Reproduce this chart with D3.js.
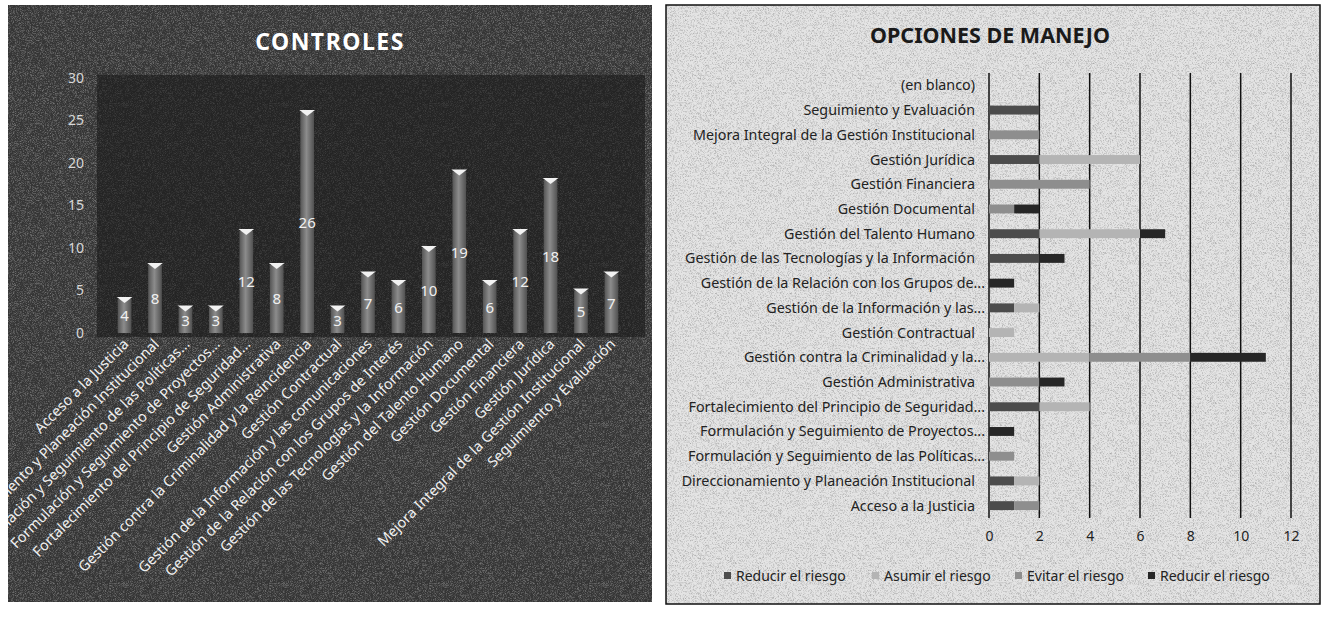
<!DOCTYPE html>
<html lang="es">
<head>
<meta charset="UTF-8">
<title>Controles y Opciones de Manejo</title>
<script src="https://d3js.org/d3.v7.min.js"></script>
<style>
  body { margin: 0; background: #fff; }
  svg { display: block; font-family: "Noto Sans", "Open Sans", sans-serif; }
</style>
</head>
<body>
<div id="chart"></div>
<script>
// --- Controles (columnas) ---
const controlLabels = [
  "Acceso a la Justicia",
  "Direccionamiento y Planeación Institucional",
  "Formulación y Seguimiento de las Políticas...",
  "Formulación y Seguimiento de Proyectos...",
  "Fortalecimiento del Principio de Seguridad...",
  "Gestión Administrativa",
  "Gestión contra la Criminalidad y la Reincidencia",
  "Gestión Contractual",
  "Gestión de la Información y las comunicaciones",
  "Gestión de la Relación con los Grupos de Interés",
  "Gestión de las Tecnologías y la Información",
  "Gestión del Talento Humano",
  "Gestión Documental",
  "Gestión Financiera",
  "Gestión Jurídica",
  "Mejora Integral de la Gestión Institucional",
  "Seguimiento y Evaluación"
];
const controlValues = [4, 8, 3, 3, 12, 8, 26, 3, 7, 6, 10, 19, 6, 12, 18, 5, 7];
const controlTicks = [0, 5, 10, 15, 20, 25, 30];

// --- Opciones de manejo (barras apiladas), de abajo hacia arriba ---
const manejoLabels = [
  "Acceso a la Justicia",
  "Direccionamiento y Planeación Institucional",
  "Formulación y Seguimiento de las Políticas...",
  "Formulación y Seguimiento de Proyectos...",
  "Fortalecimiento del Principio de Seguridad...",
  "Gestión Administrativa",
  "Gestión contra la Criminalidad y la...",
  "Gestión Contractual",
  "Gestión de la Información y las...",
  "Gestión de la Relación con los Grupos de...",
  "Gestión de las Tecnologías y la Información",
  "Gestión del Talento Humano",
  "Gestión Documental",
  "Gestión Financiera",
  "Gestión Jurídica",
  "Mejora Integral de la Gestión Institucional",
  "Seguimiento y Evaluación",
  "(en blanco)"
];
const reducirA = [1, 1, 0, 0, 2, 0, 0, 0, 1, 0, 2, 2, 0, 0, 2, 0, 2, 0];
const asumir   = [0, 1, 0, 0, 2, 0, 4, 1, 1, 0, 0, 4, 0, 0, 4, 0, 0, 0];
const evitar   = [1, 0, 1, 0, 0, 2, 4, 0, 0, 0, 0, 0, 1, 4, 0, 2, 0, 0];
const reducirB = [0, 0, 0, 1, 0, 1, 3, 0, 0, 1, 1, 1, 1, 0, 0, 0, 0, 0];
const seriesNames = ["Reducir el riesgo", "Asumir el riesgo", "Evitar el riesgo", "Reducir el riesgo"];
const manejoTicks = [0, 2, 4, 6, 8, 10, 12];

const seriesColors = ["#4c4c4c", "#b4b4b4", "#8e8e8e", "#262626"];

const W = 1328, H = 624;
const svg = d3.select("#chart").append("svg").attr("width", W).attr("height", H);
svg.append("rect").attr("width", W).attr("height", H).attr("fill", "#fff");

// grain filter to mimic the scanned look
const defs = svg.append("defs");
const grain = defs.append("filter").attr("id", "grain")
  .attr("x", 0).attr("y", 0).attr("width", "100%").attr("height", "100%");
grain.append("feTurbulence").attr("type", "fractalNoise")
  .attr("baseFrequency", 1.6).attr("numOctaves", 1).attr("seed", 3);
grain.append("feColorMatrix").attr("type", "matrix")
  .attr("values", "0 0 0 0 1  0 0 0 0 1  0 0 0 0 1  0 0 0 -2.2 1.25");
const grainDark = defs.append("filter").attr("id", "grainDark")
  .attr("x", 0).attr("y", 0).attr("width", "100%").attr("height", "100%");
grainDark.append("feTurbulence").attr("type", "fractalNoise")
  .attr("baseFrequency", 1.6).attr("numOctaves", 1).attr("seed", 7);
grainDark.append("feColorMatrix").attr("type", "matrix")
  .attr("values", "0 0 0 0 0  0 0 0 0 0  0 0 0 0 0  0 0 0 -2.2 1.2");

// ================= LEFT: CONTROLES =================
const L = { x0: 8, y0: 5, x1: 652, y1: 602 };
defs.append("clipPath").attr("id", "clipL").append("rect")
  .attr("x", L.x0).attr("y", L.y0).attr("width", L.x1 - L.x0).attr("height", L.y1 - L.y0);
const left = svg.append("g").attr("clip-path", "url(#clipL)");

left.append("rect").attr("x", L.x0).attr("y", L.y0)
  .attr("width", L.x1 - L.x0).attr("height", L.y1 - L.y0).attr("fill", "#353535");
left.append("rect").attr("x", L.x0).attr("y", L.y0)
  .attr("width", L.x1 - L.x0).attr("height", L.y1 - L.y0)
  .attr("filter", "url(#grain)").attr("opacity", 0.4);

// plot area
left.append("rect").attr("x", 97).attr("y", 75).attr("width", 548).attr("height", 262)
  .attr("fill", "#161616").attr("opacity", 0.55);

left.append("text").attr("x", 330).attr("y", 50).attr("text-anchor", "middle")
  .attr("fill", "#fff").attr("font-weight", "bold").attr("font-size", 23)
  .attr("letter-spacing", 1.5).text("CONTROLES");

const yL = d3.scaleLinear().domain([0, 30]).range([333, 78]);
const xL = d3.scaleBand().domain(controlLabels).range([101, 635]).padding(0.55);

const yAxisL = left.append("g").attr("transform", "translate(86,0)")
  .call(d3.axisLeft(yL).tickValues(controlTicks).tickSize(0).tickPadding(2));
yAxisL.select(".domain").remove();
yAxisL.selectAll("text").attr("fill", "#d8d8d8").attr("font-size", 14)
  .attr("font-family", "'Noto Sans', sans-serif");

// cylinder-like gradient
const cyl = defs.append("linearGradient").attr("id", "cyl");
cyl.append("stop").attr("offset", "0%").attr("stop-color", "#555");
cyl.append("stop").attr("offset", "45%").attr("stop-color", "#8c8c8c");
cyl.append("stop").attr("offset", "100%").attr("stop-color", "#505050");

const bars = left.append("g").selectAll("g").data(controlLabels).join("g");
bars.append("rect")
  .attr("x", d => xL(d)).attr("width", xL.bandwidth())
  .attr("y", (d, i) => yL(controlValues[i]))
  .attr("height", (d, i) => yL(0) - yL(controlValues[i]))
  .attr("fill", "url(#cyl)");
bars.append("path")
  .attr("d", (d, i) => {
    const cx = xL(d) + xL.bandwidth() / 2, cy = yL(controlValues[i]);
    const hw = xL.bandwidth() / 2 + 1;
    return `M${cx - hw},${cy - 2}L${cx + hw},${cy - 2}L${cx},${cy + 4}Z`;
  })
  .attr("fill", "#f2f2f2");
bars.append("text")
  .attr("x", d => xL(d) + xL.bandwidth() / 2)
  .attr("y", (d, i) => (yL(controlValues[i]) + yL(0)) / 2)
  .attr("dy", "0.35em").attr("text-anchor", "middle")
  .attr("fill", "#f0f0f0").attr("font-size", 15)
  .text((d, i) => controlValues[i]);

left.append("g").selectAll("text").data(controlLabels).join("text")
  .attr("transform", d => `translate(${xL(d) + xL.bandwidth() / 2 + 5},${345}) rotate(-45)`)
  .attr("text-anchor", "end").attr("fill", "#f0f0f0").attr("font-size", 14.5)
  .text(d => d);

// ================= RIGHT: OPCIONES DE MANEJO =================
const R = { x0: 666, y0: 5, x1: 1320, y1: 604 };
const right = svg.append("g");
right.append("rect").attr("x", R.x0).attr("y", R.y0)
  .attr("width", R.x1 - R.x0).attr("height", R.y1 - R.y0).attr("fill", "#e4e4e4");
right.append("rect").attr("x", R.x0).attr("y", R.y0)
  .attr("width", R.x1 - R.x0).attr("height", R.y1 - R.y0)
  .attr("filter", "url(#grainDark)").attr("opacity", 0.3);
right.append("rect").attr("x", R.x0).attr("y", R.y0)
  .attr("width", R.x1 - R.x0).attr("height", R.y1 - R.y0)
  .attr("fill", "none").attr("stroke", "#111").attr("stroke-width", 1.5);

right.append("text").attr("x", 990).attr("y", 43).attr("text-anchor", "middle")
  .attr("fill", "#1a1a1a").attr("font-weight", "bold").attr("font-size", 21.5)
  .text("OPCIONES DE MANEJO");

const xR = d3.scaleLinear().domain([0, 12]).range([989, 1291]);
const yR = d3.scaleBand().domain(manejoLabels.slice().reverse()).range([73, 518]).paddingInner(0.64).paddingOuter(0.32);

// vertical gridlines
right.append("g").selectAll("line").data(manejoTicks).join("line")
  .attr("x1", d => xR(d)).attr("x2", d => xR(d)).attr("y1", 73).attr("y2", 518)
  .attr("stroke", "#111").attr("stroke-width", 1.5);

const xAxisR = right.append("g").attr("transform", "translate(0,529)")
  .call(d3.axisBottom(xR).tickValues(manejoTicks).tickSize(0).tickPadding(2));
xAxisR.select(".domain").remove();
xAxisR.selectAll("text").attr("fill", "#222").attr("font-size", 14)
  .attr("font-family", "'Noto Sans', sans-serif");

right.append("g").selectAll("text").data(manejoLabels).join("text")
  .attr("x", d => d.endsWith("...") ? 985 : 975)
  .attr("y", d => yR(d) + yR.bandwidth() / 2)
  .attr("dy", "0.35em").attr("text-anchor", "end")
  .attr("fill", "#222").attr("font-size", 14.3)
  .text(d => d);

const table = manejoLabels.map((c, i) => ({ cat: c, s0: reducirA[i], s1: asumir[i], s2: evitar[i], s3: reducirB[i] }));
const stack = d3.stack().keys(["s0", "s1", "s2", "s3"])(table);

right.append("g").selectAll("g").data(stack).join("g")
  .attr("fill", (d, i) => seriesColors[i])
  .selectAll("rect").data(d => d.filter(p => p[1] > p[0])).join("rect")
  .attr("x", p => xR(p[0])).attr("width", p => xR(p[1]) - xR(p[0]))
  .attr("y", p => yR(p.data.cat)).attr("height", yR.bandwidth());

// legend
const legendX = [724, 872, 1015, 1148];
const leg = right.append("g").selectAll("g").data(seriesNames).join("g")
  .attr("transform", (d, i) => `translate(${legendX[i]},576)`);
leg.append("rect").attr("x", 0).attr("y", -4).attr("width", 7).attr("height", 7)
  .attr("fill", (d, i) => seriesColors[i]);
leg.append("text").attr("x", 12).attr("dy", "0.35em").attr("fill", "#222")
  .attr("font-size", 14).text(d => d);
</script>
</body>
</html>
